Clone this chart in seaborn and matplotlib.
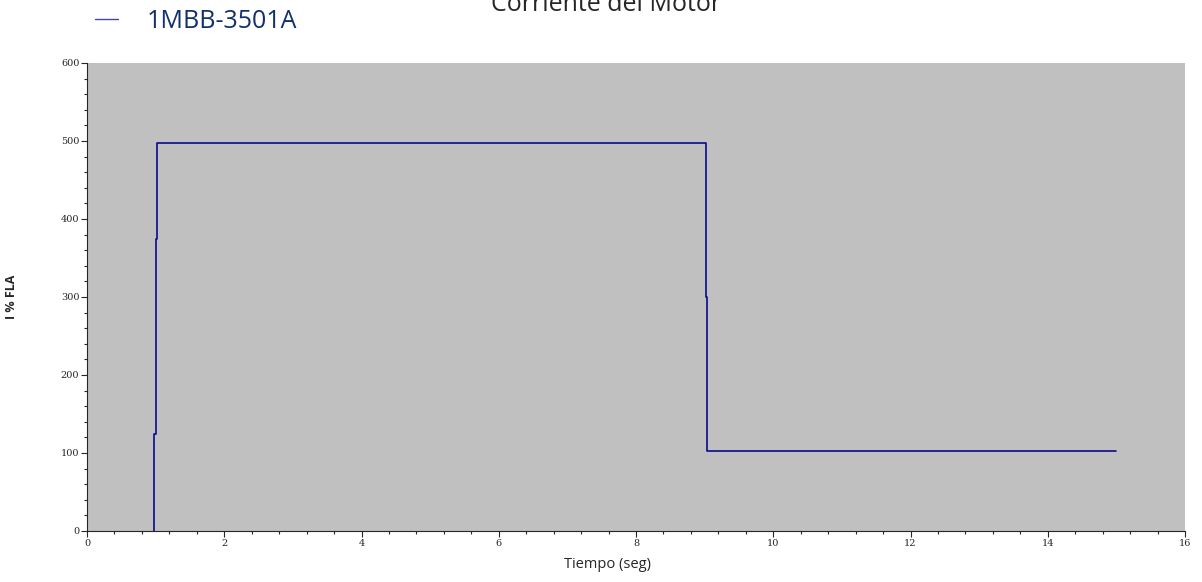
import numpy as np
import pandas as pd
import seaborn as sns
import matplotlib.pyplot as plt
from matplotlib.ticker import MultipleLocator

# step trace (seconds, % FLA)
tiempo = [0.98, 0.98, 1.00, 1.00, 1.02, 1.02, 9.02, 9.02, 9.03, 9.03, 15.0]
corriente = [0, 125, 125, 374, 374, 498, 498, 300, 300, 103, 103]
serie = "1MBB-3501A"

df = pd.DataFrame({"t": tiempo, "i": corriente, "motor": serie})

sns.set_style("ticks")
plt.rcParams["font.family"] = ["Open Sans", "DejaVu Sans"]

fig = plt.figure(figsize=(12.02, 5.82), dpi=100)
ax = fig.add_axes([87 / 1202, 1 - 531 / 582, (1185 - 87) / 1202, (531 - 63) / 582])
ax.set_facecolor("#c0c0c0")

sns.lineplot(data=df, x="t", y="i", hue="motor", palette=["#0a0a8c"],
             sort=False, estimator=None, linewidth=1.2, ax=ax)

ax.set_xlim(0, 16)
ax.set_ylim(0, 600)
ax.xaxis.set_major_locator(MultipleLocator(2))
ax.xaxis.set_minor_locator(MultipleLocator(0.4))
ax.yaxis.set_major_locator(MultipleLocator(100))
ax.yaxis.set_minor_locator(MultipleLocator(20))
ax.tick_params(which="major", direction="out", length=4, width=0.8,
               labelsize=7, pad=1.5)
ax.tick_params(which="minor", direction="out", length=2.5, width=0.8)
for lab in ax.get_xticklabels() + ax.get_yticklabels():
    lab.set_family("DejaVu Serif")

for s in ["top", "right"]:
    ax.spines[s].set_visible(False)
ax.spines["left"].set_linewidth(0.8)
ax.spines["bottom"].set_linewidth(0.8)

ax.set_xlabel("Tiempo (seg)", fontsize=10.5)
ax.xaxis.set_label_coords((608 - 87) / (1185 - 87), -0.055)
ax.set_ylabel("I % FLA", fontsize=9, fontweight="bold")
ax.yaxis.set_label_coords(-(87 - 18) / (1185 - 87), 0.5)

fig.text(606 / 1202, 1 - 11 / 582, "Corriente del Motor", ha="center",
         va="baseline", fontsize=18)

leg = ax.legend(loc="center left", bbox_to_anchor=(95 / 1202, 1 - 21 / 582),
                bbox_transform=fig.transFigure, frameon=False, fontsize=18,
                labelcolor="#10306e", handlelength=0.9, handletextpad=1.15,
                borderpad=0, borderaxespad=0)
for h in leg.get_lines():
    h.set_color("#4646a0")
    h.set_linewidth(1.0)

fig.savefig("out.png", dpi=100)
